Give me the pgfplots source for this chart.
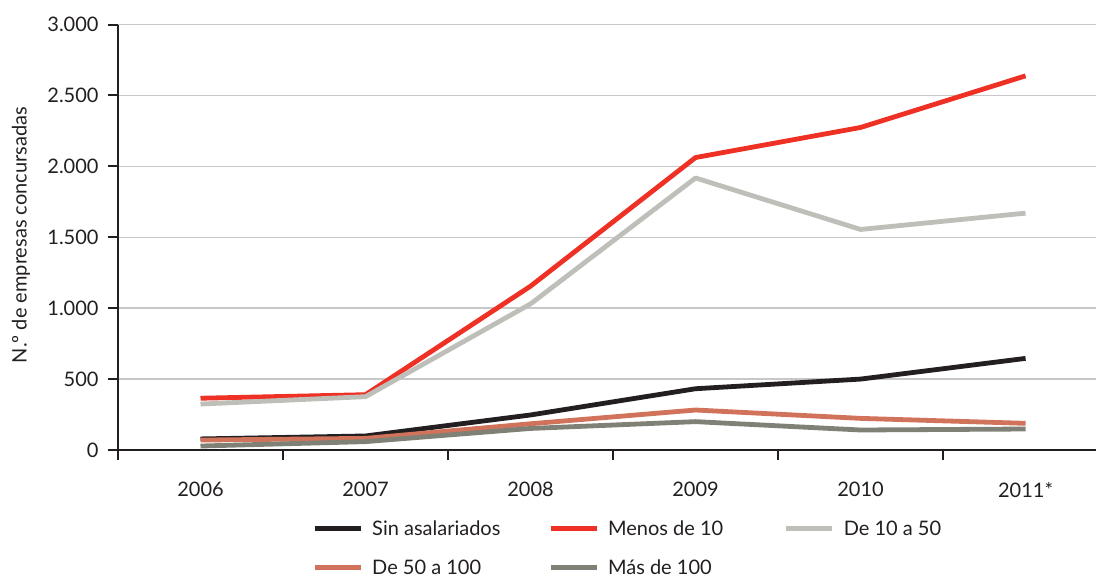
\documentclass[border=0pt]{standalone}
\usepackage{fontspec}
\setmainfont{Lato}
\usepackage{pgfplots}
\pgfplotsset{compat=1.18}
\definecolor{cblack}{HTML}{231F20}
\definecolor{cred}{HTML}{EE3124}
\definecolor{clgray}{HTML}{BFBFBA}
\definecolor{corange}{HTML}{D0735A}
\definecolor{cdgray}{HTML}{7F8177}
\definecolor{cgrid}{HTML}{C8C8C8}
\begin{document}
\begin{tikzpicture}[font=\fontsize{10}{12}\selectfont, text=cblack]
\begin{axis}[
  name=ax, at={(0,0)}, anchor=south west,
  scale only axis, width=489pt, height=212.75pt,
  xmin=-0.5, xmax=5.427, ymin=0, ymax=3000,
  axis lines*=left,
  axis line style={-, line width=1pt, draw=cblack},
  tick align=outside,
  major tick length=5.2pt,
  tick style={line width=1pt, draw=cblack},
  xtick={-0.5,0.5,1.5,2.5,3.5,4.5},
  xticklabels={2006,2007,2008,2009,2010,2011*},
  xticklabel style={xshift=41.25pt, yshift=-7.5pt},
  ytick={0,500,...,3000},
  yticklabel style={xshift=-1pt},
  /pgf/number format/assume math mode=true,
  /pgf/number format/.cd, 1000 sep={.}, /pgfplots/.cd,
  ymajorgrids,
  grid style={draw=cgrid, line width=0.7pt},
  ylabel={N.º de empresas concursadas},
  ylabel style={at={(rel axis cs:-0.0992,0.505)}, anchor=center, rotate=0},
  legend columns=3,
  legend style={draw=none, fill=none, inner sep=0pt, at={(rel axis cs:0.1984,0)}, anchor=north west, yshift=-34pt,
    /tikz/every odd column/.append style={column sep=4.5pt},
    /tikz/every even column/.append style={column sep=0pt},
    row sep=9.5pt, nodes={inner sep=0pt}},
  legend cell align=left,
  legend image code/.code={\draw[#1] (0pt,0pt) -- (23pt,0pt);},
  every axis plot/.append style={line width=2.4pt, line join=round},
]
\addplot[cblack] coordinates {(0,78) (1,99) (2,247) (3,432) (4,500) (5,646)};
\addplot[cred] coordinates {(0,365) (1,390) (2,1155) (3,2062) (4,2274) (5,2638)};
\addplot[clgray] coordinates {(0,324) (1,376) (2,1030) (3,1918) (4,1555) (5,1670)};
\addplot[corange] coordinates {(0,70) (1,82) (2,185) (3,282) (4,223) (5,188)};
\addplot[cdgray] coordinates {(0,28) (1,59) (2,152) (3,200) (4,141) (5,148)};
\legend{\makebox[88pt][l]{\strut Sin asalariados},\makebox[88pt][l]{\strut Menos de 10},\makebox[88pt][l]{\strut De 10 a 50},\makebox[88pt][l]{\strut De 50 a 100},\makebox[88pt][l]{\strut Más de 100}}
\end{axis}
\pgfresetboundingbox
\path[use as bounding box] (-59pt,-64pt) rectangle (489pt,225pt);
\end{tikzpicture}
\end{document}
